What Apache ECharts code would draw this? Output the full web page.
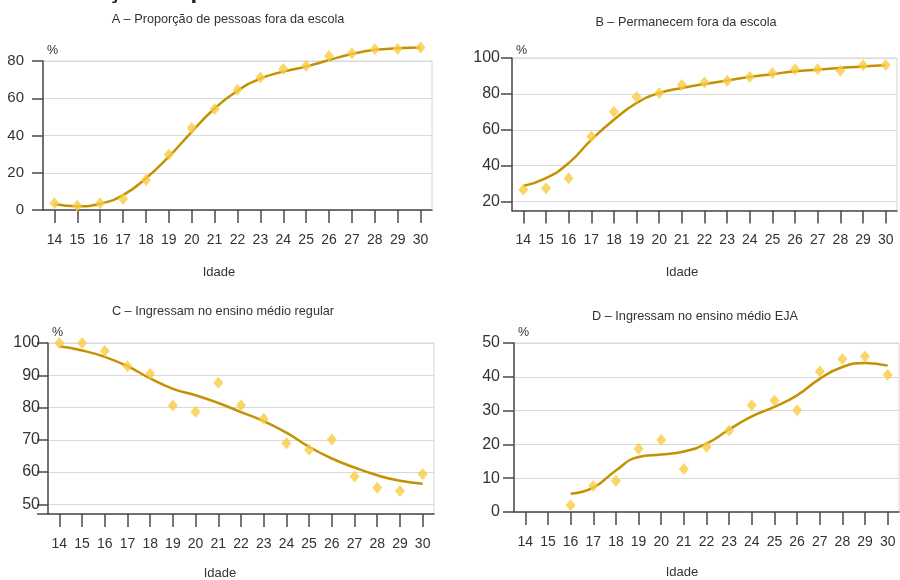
<!DOCTYPE html>
<html>
<head>
<meta charset="utf-8">
<script src="https://cdn.jsdelivr.net/npm/echarts@6/dist/echarts.min.js"></script>
<style>
html,body{margin:0;padding:0;background:#fff;}
#chart{width:900px;height:580px;}
</style>
</head>
<body>
<div id="chart"></div>
<script>
// ---- Data ----
const ages = ['14','15','16','17','18','19','20','21','22','23','24','25','26','27','28','29','30'];

// A – Proporção de pessoas fora da escola
const foraEscolaPontos = [3.6, 2.3, 3.6, 5.9, 16.1, 29.8, 44.0, 54.2, 64.6, 71.1, 75.7, 77.5, 82.7, 84.1, 86.3, 86.4, 87.2];
const foraEscolaCurva  = [3.2, 2.0, 3.4, 8.0, 17.0, 28.6, 42.0, 54.5, 64.0, 70.5, 74.3, 77.0, 80.5, 83.8, 86.0, 86.8, 87.2];

// B – Permanecem fora da escola
const permanecemPontos = [26.5, 27.4, 33.0, 56.3, 70.0, 78.2, 80.5, 84.9, 86.4, 87.3, 89.4, 91.6, 93.7, 93.7, 92.9, 95.9, 96.1];
const permanecemCurva  = [28.7, 33.0, 41.4, 54.4, 65.6, 74.9, 80.5, 83.3, 85.5, 87.5, 89.4, 91.0, 92.6, 93.5, 94.4, 95.3, 95.9];

// C – Ingressam no ensino médio regular
const regularPontos = [100, 100, 97.5, 92.8, 90.5, 80.6, 78.7, 87.7, 80.7, 76.5, 68.9, 66.9, 70.1, 58.6, 55.1, 54.1, 59.4];
const regularCurva  = [99.0, 97.7, 95.7, 92.8, 89.0, 85.8, 83.8, 81.4, 78.6, 75.8, 72.2, 67.8, 64.2, 61.4, 59.0, 57.3, 56.4];

// D – Ingressam no ensino médio EJA
const ejaPontos = [null, null, 2.0, 7.7, 9.2, 18.7, 21.3, 12.7, 19.2, 24.1, 31.6, 33.0, 30.1, 41.6, 45.3, 46.0, 40.6];
const ejaCurva  = [null, null, 5.4, 7.2, 12.3, 16.3, 17.0, 17.9, 20.2, 24.4, 28.3, 31.1, 34.5, 39.4, 42.9, 44.1, 43.3];

const titles = ['A – Proporção de pessoas fora da escola', 'B – Permanecem fora da escola',
                'C – Ingressam no ensino médio regular', 'D – Ingressam no ensino médio EJA'];
const ticksB = [20, 40, 60, 80, 100];

// ---- Styling ----
const FONT = 'Liberation Sans';
const TXT = '#333333';
const AXIS = '#4a4a4a';
const GRIDC = '#d9d9d9';
const LINEC = '#C49200';
const MARKC = '#F9CC44';

const grids = [
  {left: 43,  top: 61,  width: 389, height: 149},
  {left: 512, top: 58,  width: 385, height: 152.5},
  {left: 48,  top: 343, width: 386, height: 171},
  {left: 514, top: 343, width: 385, height: 169}
].map(g => Object.assign(g, {show: true, borderColor: '#d6d6d6', borderWidth: 1, backgroundColor: 'transparent'}));

const xAxes = [0,1,2,3].map(i => ({
  type: 'category', gridIndex: i, data: ages, boundaryGap: true,
  axisLine: {show: true, lineStyle: {color: AXIS, width: 1.5}},
  axisTick: {show: true, alignWithLabel: true, length: 13, lineStyle: {color: AXIS, width: 1.5}},
  axisLabel: {interval: 0, margin: 23, fontSize: 14, color: TXT, fontFamily: FONT},
  splitLine: {show: false}
}));

function yAx(i, min, max, step, margin, fs, interval) {
  const a = {
    type: 'value', gridIndex: i, min: min, max: max,
    axisLine: {show: true, lineStyle: {color: AXIS, width: 1.5}},
    axisTick: {show: true, length: 11, lineStyle: {color: AXIS, width: 1.5}},
    axisLabel: {margin: margin, fontSize: fs, color: TXT, fontFamily: FONT,
      formatter: v => (Math.abs(v % step) < 1e-9 ? String(v) : '')},
    splitLine: {show: true, lineStyle: {color: GRIDC, width: 1}}
  };
  if (interval) a.interval = interval; else a.splitNumber = 5;
  return a;
}
const yAxes = [
  yAx(0, 0, 80, 20, 19, 15, 20),
  yAx(1, 15, 100, 20, 12, 16, null),
  yAx(2, 47, 100, 10, 8, 16, null),
  yAx(3, 0, 50, 10, 14, 16, 10)
];
yAxes[1].axisTick.customValues = ticksB;

const curves = [foraEscolaCurva, permanecemCurva, regularCurva, ejaCurva];
const points = [foraEscolaPontos, permanecemPontos, regularPontos, ejaPontos];

const series = [];
for (let i = 0; i < 4; i++) {
  series.push({
    type: 'line', xAxisIndex: i, yAxisIndex: i, clip: false,
    data: curves[i].map(v => v === null ? '-' : v),
    smooth: 0.5, symbol: 'none', connectNulls: false,
    lineStyle: {color: LINEC, width: 2.5}, z: 2, silent: true
  });
  series.push({
    type: 'scatter', xAxisIndex: i, yAxisIndex: i, clip: false,
    data: points[i].map((v, k) => [ages[k], v]).filter(d => d[1] !== null),
    symbol: 'diamond', symbolSize: [10, 12],
    itemStyle: {color: MARKC}, z: 3, silent: true
  });
}

function txt(x, y, text, opts) {
  return {type: 'text', x: x, y: y, silent: true, z: 10,
    style: Object.assign({text: text, fill: TXT, font: '12.7px "' + FONT + '"', textAlign: 'center', textVerticalAlign: 'middle'}, opts || {})};
}

const graphic = [
  // clipped heading at the very top
  txt(49, -8.5, 'Situação de permanência', {font: 'bold 24px "' + FONT + '"', textAlign: 'left', fill: '#222'}),
  txt(228, 19, titles[0]),
  txt(686, 22, titles[1]),
  txt(223, 311, titles[2]),
  txt(695, 316, titles[3]),
  txt(47, 51, '%', {textAlign: 'left', font: '12.5px "' + FONT + '"'}),
  txt(516, 51, '%', {textAlign: 'left', font: '12.5px "' + FONT + '"'}),
  txt(52, 333, '%', {textAlign: 'left', font: '12.5px "' + FONT + '"'}),
  txt(518, 333, '%', {textAlign: 'left', font: '12.5px "' + FONT + '"'}),
  txt(219, 272, 'Idade', {font: '13px "' + FONT + '"'}),
  txt(682, 272, 'Idade', {font: '13px "' + FONT + '"'}),
  txt(220, 573, 'Idade', {font: '13px "' + FONT + '"'}),
  txt(682, 572, 'Idade', {font: '13px "' + FONT + '"'})
];

const chart = echarts.init(document.getElementById('chart'), null, {renderer: 'canvas'});
chart.setOption({
  animation: false,
  backgroundColor: '#ffffff',
  grid: grids,
  xAxis: xAxes,
  yAxis: yAxes,
  series: series,
  graphic: graphic
});
</script>
</body>
</html>
